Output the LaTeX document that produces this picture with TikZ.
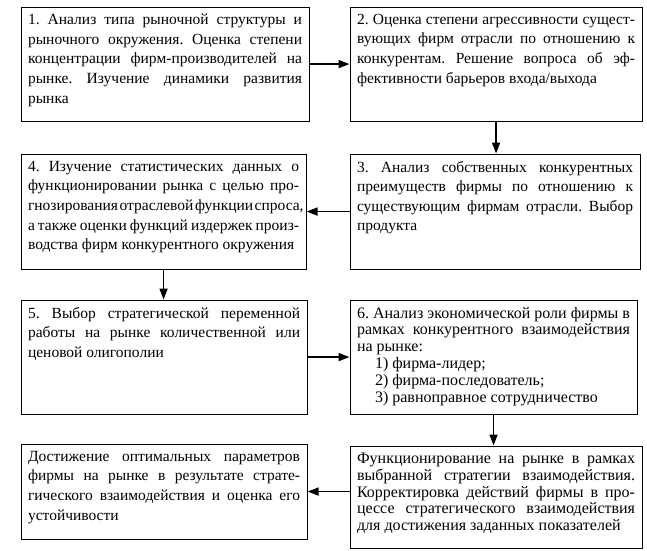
\documentclass[tikz,border=0pt]{standalone}
\usepackage{fontspec}
\setmainfont{Liberation Serif}
\usetikzlibrary{arrows.meta}
\hyphenpenalty=10000
\frenchspacing
\newcommand{\blocktext}[3]{\parbox[c][#2][t]{#1}{\spaceskip=0.25em plus 0.3em minus 0.15em\vspace*{7pt}#3}}
\newcommand{\fullline}[1]{\makebox[\linewidth][s]{#1}\\}

\begin{document}
\begin{tikzpicture}[x=1pt,y=-1pt,
    block/.style={draw, line width=1.1pt, anchor=north west, inner xsep=7pt, inner ysep=0pt,
        font=\fontsize{15.5}{19.6}\selectfont},
    smallblock/.style={block, font=\fontsize{16}{16.8}\selectfont},
    arr/.style={line width=1.8pt, -{Triangle[length=11pt,width=8pt]}}]

    \useasboundingbox (0,0) rectangle (647,550);

    % верхний ряд
    \node[block] (b1) at (20.5,6.5) {\blocktext{274pt}{114pt}{%
        \fullline{1. Анализ типа рыночной структуры и}
        \fullline{рыночного окружения. Оценка степени}
        \fullline{концентрации фирм-производителей на}
        \fullline{рынке. Изучение динамики развития}
        рынка}};
    \node[block] (b2) at (349.5,6.5) {\blocktext{278pt}{114pt}{%
        \fullline{2. Оценка степени агрессивности сущест-}
        \fullline{вующих фирм отрасли по отношению к}
        \fullline{конкурентам. Решение вопроса об эф-}
        фективности барьеров входа/выхода}};

    % второй ряд
    \node[block] (b3) at (349.5,153.5) {\blocktext{276pt}{115pt}{%
        \fullline{3. Анализ собственных конкурентных}
        \fullline{преимуществ фирмы по отношению к}
        \fullline{существующим фирмам отрасли. Выбор}
        продукта}};
    \node[block] (b4) at (20.5,153.5) {\blocktext{271pt}{115pt}{%
        \fullline{4. Изучение статистических данных о}
        \fullline{функционировании рынка с целью про-}
        \fullline{гнозирования отраслевой функции спроса,}
        \fullline{а также оценки функций издержек произ-}
        водства фирм конкурентного окружения}};

    % третий ряд
    \node[block] (b5) at (20.5,299.5) {\blocktext{272pt}{114pt}{%
        \fullline{5. Выбор стратегической переменной}
        \fullline{работы на рынке количественной или}
        ценовой олигополии}};
    \node[smallblock] (b6) at (349.5,299.5) {\blocktext{273pt}{114pt}{%
        \fullline{6. Анализ экономической роли фирмы в}
        \fullline{рамках конкурентного взаимодействия}
        на рынке:\\
        \hspace*{18pt}1) фирма-лидер;\\
        \hspace*{18pt}2) фирма-последователь;\\
        \hspace*{18pt}3) равноправное сотрудничество}};

    % нижний ряд
    \node[smallblock] (b7) at (349.5,445.5) {\blocktext{278pt}{102pt}{%
        \fullline{Функционирование на рынке в рамках}
        \fullline{выбранной стратегии взаимодействия.}
        \fullline{Корректировка действий фирмы в про-}
        \fullline{цессе стратегического взаимодействия}
        для достижения заданных показателей}};
    \node[block] (b8) at (20.5,443.5) {\blocktext{272pt}{95pt}{%
        \fullline{Достижение оптимальных параметров}
        \fullline{фирмы на рынке в результате страте-}
        \fullline{гического взаимодействия и оценка его}
        устойчивости}};

    % стрелки
    \draw[arr] (b1.east) -- (b2.west);
    \draw[arr] (b2.south) -- (b2.south |- b3.north);
    \draw[arr] (b3.west) -- (b4.east);
    \draw[arr] (b4.south) -- (b4.south |- b5.north);
    \draw[arr] (b5.east) -- (b6.west);
    \draw[arr] (b6.south) -- (b6.south |- b7.north);
    \draw[arr] (b8.east -| b7.west) -- (b8.east);
\end{tikzpicture}
\end{document}
